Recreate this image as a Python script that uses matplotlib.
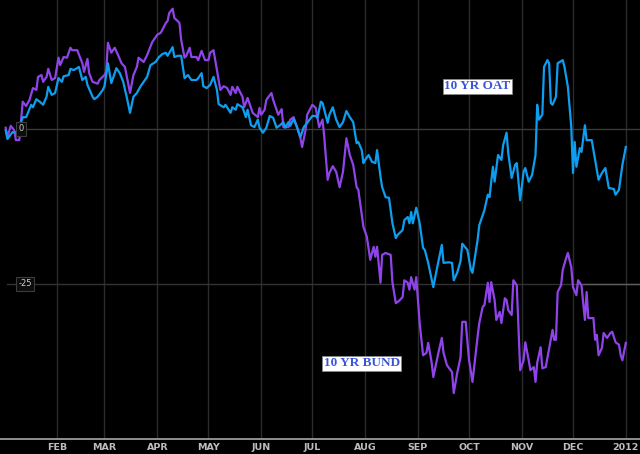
import numpy as np
import matplotlib
matplotlib.use("Agg")
import matplotlib.pyplot as plt

# days since 2011-01-01, spread in bps vs start
bund_days = [1, 2, 4, 6, 7, 9, 11, 13, 15, 17, 19, 20, 22, 23, 25, 26, 28, 30, 32, 33,
             35, 37, 39, 40, 43, 46, 47, 49, 50, 52, 55, 56, 59, 60, 61, 63, 65, 67, 69, 71,
             74, 76, 78, 79, 82, 84, 87, 90, 92, 93, 95, 96, 97, 99, 100, 102, 103, 104, 106, 107,
             109, 110, 113, 114, 116, 118, 120, 121, 123, 125, 127, 129, 131, 133, 134, 136, 137, 140, 141, 143,
             144, 146, 149, 150, 151, 153, 154, 157, 158, 160, 161, 163, 164, 167, 168, 170, 172, 174, 175, 177,
             178, 181, 183, 185, 187, 188, 190, 191, 193, 195, 197, 199, 201, 203, 205, 207, 208, 211, 213, 215,
             217, 218, 219, 221, 222, 224, 227, 228, 230, 232, 234, 235, 237, 238, 239, 241, 242, 244, 246, 248,
             249, 251, 252, 255, 257, 258, 260, 263, 264, 266, 268, 269, 271, 273, 275, 278, 279, 281, 282, 284,
             285, 286, 288, 289, 291, 292, 294, 295, 296, 298, 299, 301, 303, 305, 306, 308, 309, 311, 312, 313,
             315, 316, 318, 319, 322, 323, 324, 325, 327, 328, 330, 331, 333, 334, 336, 337, 339, 340, 341, 342,
             343, 346, 347, 348, 349, 351, 352, 354, 356, 357, 359, 361, 362, 363, 365]
bund_bps = [0.2, -1.3, 0.5, -0.2, -1.8, -1.8, 4.4, 3.7, 4.7, 6.6, 6.3, 8.4, 8.7, 7.6, 8.4, 9.7, 7.9, 8.2, 11.5, 10.3,
            11.6, 11.5, 13.1, 12.7, 12.7, 10.6, 9.2, 11.3, 9.0, 7.6, 7.3, 7.9, 8.7, 9.2, 13.9, 12.3, 13.1, 11.9, 10.6, 10.0,
            5.8, 8.7, 10.0, 11.5, 10.8, 11.9, 14.0, 15.2, 15.5, 16.0, 17.1, 17.4, 18.7, 19.4, 17.9, 17.4, 17.1, 14.4, 11.5, 11.8,
            13.1, 11.6, 11.6, 11.1, 12.6, 11.1, 11.1, 12.3, 12.7, 9.5, 6.3, 6.9, 6.6, 5.5, 6.8, 5.8, 6.8, 5.2, 3.5, 5.0,
            4.2, 2.6, 1.9, 3.4, 2.3, 3.1, 4.7, 5.8, 4.7, 3.1, 2.3, 3.2, 0.3, 0.3, 1.5, 1.9, 0.3, -1.5, -2.9, -0.2,
            2.3, 3.9, 3.4, 0.3, 1.5, -1.3, -8.2, -7.1, -6.0, -6.9, -9.4, -6.9, -1.5, -4.2, -5.8, -9.4, -9.8, -15.8, -17.4, -21.1,
            -19.0, -20.6, -19.0, -24.8, -20.3, -20.0, -20.3, -24.7, -28.1, -27.7, -27.1, -24.4, -24.8, -25.9, -23.9, -25.9, -23.9, -31.3, -36.5, -36.1,
            -34.5, -37.6, -40.0, -36.1, -33.7, -36.1, -38.1, -39.2, -42.6, -39.4, -36.8, -31.1, -31.1, -37.3, -40.8, -33.5, -31.3, -28.7, -28.4, -24.8,
            -27.9, -24.7, -27.6, -30.8, -29.5, -31.3, -27.3, -27.6, -29.2, -30.0, -24.4, -25.2, -38.9, -37.3, -34.4, -37.3, -38.9, -38.4, -40.8, -37.7,
            -35.2, -38.6, -38.4, -36.9, -32.4, -34.0, -34.0, -26.3, -25.2, -22.7, -20.8, -20.0, -22.3, -25.5, -26.8, -24.4, -25.2, -28.1, -30.8, -26.3,
            -30.5, -30.5, -34.0, -33.2, -36.5, -35.3, -32.9, -33.7, -32.9, -32.7, -34.4, -34.8, -36.5, -37.3, -34.5]

oat_days = [1, 2, 5, 6, 8, 11, 13, 16, 17, 19, 21, 23, 25, 26, 28, 30, 32, 34, 35, 38,
            39, 41, 44, 46, 48, 49, 52, 53, 55, 58, 59, 61, 63, 66, 68, 70, 72, 74, 76, 78,
            80, 82, 84, 86, 89, 91, 93, 95, 96, 99, 100, 102, 104, 106, 108, 110, 113, 114, 116, 117,
            119, 121, 123, 125, 126, 129, 130, 133, 134, 136, 137, 140, 142, 143, 145, 147, 149, 150, 152, 154,
            156, 158, 160, 162, 164, 165, 167, 168, 170, 172, 174, 176, 178, 181, 183, 184, 186, 187, 190, 191,
            193, 195, 197, 199, 201, 203, 205, 207, 208, 210, 211, 212, 214, 216, 218, 219, 221, 222, 224, 226,
            228, 230, 231, 234, 235, 237, 238, 239, 240, 242, 244, 246, 247, 249, 252, 254, 257, 258, 261, 263,
            264, 266, 268, 269, 272, 274, 275, 278, 279, 282, 284, 285, 287, 288, 290, 292, 293, 295, 296, 298,
            300, 301, 303, 305, 306, 308, 310, 312, 313, 314, 316, 317, 319, 320, 321, 322, 324, 325, 328, 329,
            331, 333, 334, 335, 336, 338, 339, 341, 342, 345, 347, 349, 351, 353, 355, 358, 359, 361, 363, 365]
oat_bps = [-0.2, -1.6, -0.5, -0.6, -0.5, 1.9, 1.9, 3.9, 3.5, 4.8, 4.4, 3.9, 5.2, 6.8, 5.5, 5.8, 8.2, 7.6, 8.5, 8.7,
           9.7, 9.5, 10.0, 7.9, 8.4, 7.1, 5.2, 4.8, 5.2, 6.3, 6.9, 10.6, 7.4, 9.8, 9.0, 7.6, 5.2, 2.6, 5.2, 5.8,
           6.8, 7.6, 8.4, 10.3, 10.8, 11.6, 12.1, 12.3, 11.8, 13.2, 11.6, 11.8, 11.8, 8.2, 8.7, 7.9, 7.9, 8.2, 9.0, 6.9,
           6.6, 7.1, 8.4, 6.3, 4.0, 3.5, 3.9, 2.6, 3.5, 3.1, 4.0, 3.5, 1.9, 3.1, 0.6, 0.3, 1.5, 0.2, -0.6, 0.2,
           2.1, 1.8, 0.2, 0.6, 1.1, 0.2, 1.1, 0.5, 1.6, 0.3, -1.3, 0.3, 1.0, 2.1, 2.1, 1.8, 4.4, 4.2, 1.0, 2.3,
           3.5, 1.5, 0.3, 1.1, 2.9, 1.9, 1.1, -2.3, -2.1, -3.4, -5.5, -5.0, -4.2, -5.3, -5.5, -3.4, -7.7, -9.4, -11.0, -11.1,
           -15.2, -17.6, -17.1, -16.3, -14.7, -14.2, -15.2, -13.4, -15.2, -12.7, -15.2, -19.2, -19.5, -21.6, -25.5, -22.7, -18.7, -21.6, -21.5, -21.6,
           -24.4, -23.2, -21.3, -18.5, -19.5, -22.6, -23.2, -17.9, -15.5, -13.1, -10.6, -11.0, -6.1, -8.5, -4.2, -5.0, -2.6, -0.6, -3.9, -7.9,
           -5.8, -5.5, -11.5, -6.9, -6.3, -8.5, -7.4, -4.2, 3.9, 1.5, 2.3, 10.0, 11.1, 10.6, 4.2, 3.9, 5.2, 10.6, 11.1, 10.0,
           6.8, 0.3, -7.1, -2.1, -6.1, -3.1, -3.7, 0.6, -1.8, -1.8, -5.0, -8.2, -7.1, -6.3, -9.5, -9.7, -10.6, -9.8, -5.8, -2.9]

month_labels = ["FEB", "MAR", "APR", "MAY", "JUN", "JUL", "AUG", "SEP", "OCT", "NOV", "DEC", "2012"]
y_labels = [0, -25]

start = np.datetime64("2011-01-01")
bund_dates = start + np.array(bund_days, dtype="timedelta64[D]")
oat_dates = start + np.array(oat_days, dtype="timedelta64[D]")
month_ticks = np.arange(np.datetime64("2011-02"), np.datetime64("2012-02"), np.timedelta64(1, "M")).astype("datetime64[D]")

fig = plt.figure(figsize=(6.4, 4.54), dpi=100, facecolor="black")
ax = fig.add_axes([0, 15 / 454, 1, 439 / 454])
ax.set_facecolor("black")

# grid
for t in month_ticks:
    ax.axvline(t, color="#2b2b2b", lw=1, zorder=0)
ax.axhline(0, xmin=26 / 640, color="#3a3a3a", lw=1, zorder=0)
ax.axhline(-25, xmin=7 / 640, color="#333333", lw=1, zorder=0)
ax.axhline(-25, xmin=583 / 640, color="#5e5e5e", lw=1, zorder=0)

ax.plot(bund_dates, bund_bps, color="#8f44ea", lw=1.6, zorder=2)
ax.plot(oat_dates, oat_bps, color="#0d9ef0", lw=1.6, zorder=3)

ax.set_xlim(start - np.timedelta64(56, "h"), start + np.timedelta64(373 * 24 + 8, "h"))
ax.set_ylim(-50, 20.8)

ax.set_xticks(month_ticks)
ax.set_xticklabels(month_labels)
ax.tick_params(axis="x", length=0, pad=3, labelcolor="#bdbdbd", labelsize=6.8)
for lab in ax.get_xticklabels():
    lab.set_fontweight("bold")
    lab.set_family(["Liberation Sans Narrow", "DejaVu Sans"])
ax.set_yticks([])

for s in ["top", "left", "right"]:
    ax.spines[s].set_visible(False)
ax.spines["bottom"].set_color("#9a9a9a")
ax.spines["bottom"].set_linewidth(1.3)

# y value boxes
for v, xf in zip(y_labels, [0.033, 0.039]):
    ax.text(xf, v, str(v), transform=ax.get_yaxis_transform(), ha="center", va="center",
            fontsize=6, color="#cfcfcf",
            bbox=dict(boxstyle="square,pad=0.25", facecolor="#0c0c0c", edgecolor="#3c3c3c", lw=0.8))

# series labels
label_style = dict(fontsize=9.5, fontweight="bold", color="#3b55d8", ha="center", va="center",
                   family=["Liberation Serif", "DejaVu Serif"], zorder=5)
box = dict(boxstyle="square,pad=0.1", facecolor="white", edgecolor="#888888", lw=0.6)
ax.text(start + np.timedelta64(278, "D"), 6.9, "10 YR OAT", bbox=box, **label_style)
ax.text(start + np.timedelta64(210, "D"), -37.8, "10 YR BUND", bbox=box, **label_style)

fig.savefig("out.png", dpi=100, facecolor="black")
